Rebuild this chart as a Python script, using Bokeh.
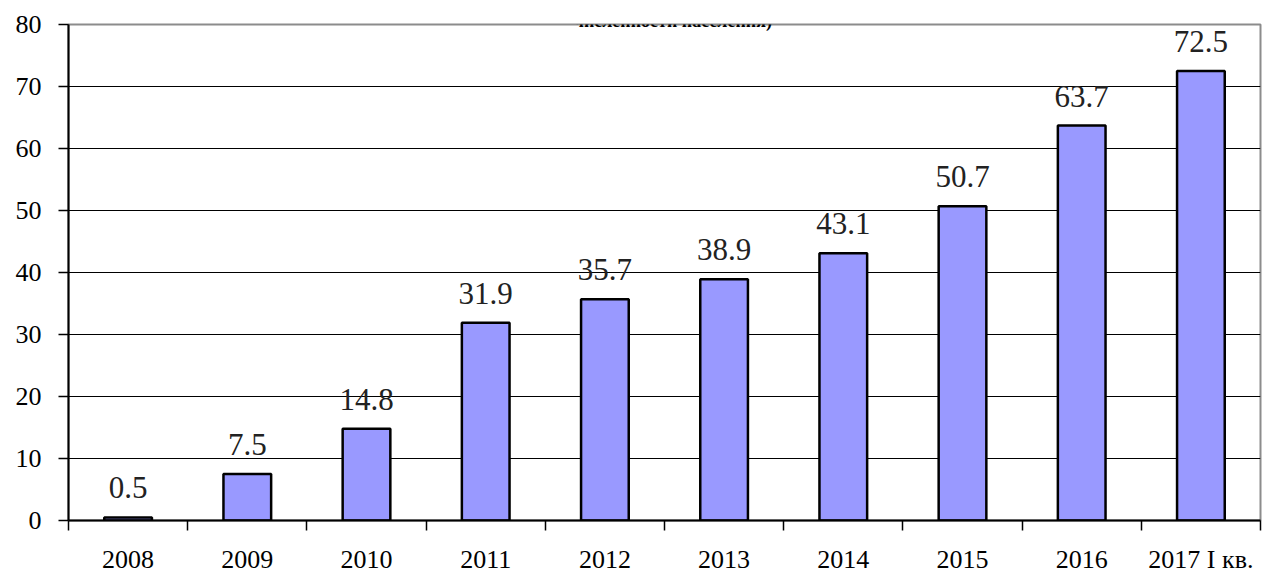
from bokeh.plotting import figure
from bokeh.models import Range1d, FixedTicker, ColumnDataSource, LabelSet, Label
from bokeh.embed import file_html
from bokeh.resources import INLINE

years = ["2008", "2009", "2010", "2011", "2012", "2013", "2014", "2015", "2016", "2017 I кв."]
values = [0.5, 7.5, 14.8, 31.9, 35.7, 38.9, 43.1, 50.7, 63.7, 72.5]
y_ticks = [0, 10, 20, 30, 40, 50, 60, 70, 80]
title_text = "численности населения)"

n = len(years)
centers = [i + 0.5 for i in range(n)]
bounds = [float(i) for i in range(n + 1)]

src = ColumnDataSource(dict(x=centers, top=values, lab=[f"{v:.1f}" for v in values]))

p = figure(width=1262, height=576, output_backend="svg", toolbar_location=None,
           x_range=Range1d(0, n), y_range=Range1d(0, 80),
           min_border_left=68, min_border_right=2, min_border_top=24, min_border_bottom=56)
p.background_fill_color = "white"
p.border_fill_color = "white"
p.outline_line_color = "#8c8c8c"
p.outline_line_width = 2

p.vbar(x="x", top="top", bottom=0, width=0.4, source=src,
       fill_color="#9999FF", line_color="black", line_width=2.5)

FONT = "'Liberation Serif', serif"

# y axis
p.yaxis.ticker = FixedTicker(ticks=y_ticks)
p.yaxis.axis_line_color = "black"
p.yaxis.axis_line_width = 2
p.yaxis.major_tick_out = 10
p.yaxis.major_tick_in = 0
p.yaxis.major_tick_line_color = "black"
p.yaxis.major_tick_line_width = 1.5
p.yaxis.minor_tick_line_color = None
p.yaxis.major_label_text_font = FONT
p.yaxis.major_label_text_font_size = "26px"
p.yaxis.major_label_text_color = "black"
p.yaxis.major_label_standoff = 17

# x axis
p.xaxis.ticker = FixedTicker(ticks=centers, minor_ticks=bounds)
p.xaxis.major_label_overrides = {c: y for c, y in zip(centers, years)}
p.xaxis.axis_line_color = "black"
p.xaxis.axis_line_width = 2
p.xaxis.major_tick_line_color = None
p.xaxis.major_tick_out = 0
p.xaxis.major_tick_in = 0
p.xaxis.minor_tick_line_color = "black"
p.xaxis.minor_tick_line_width = 1.5
p.xaxis.minor_tick_out = 10
p.xaxis.minor_tick_in = 0
p.xaxis.major_label_text_font = FONT
p.xaxis.major_label_text_font_size = "26px"
p.xaxis.major_label_text_color = "black"
p.xaxis.major_label_standoff = 14

p.xgrid.grid_line_color = None
p.ygrid.ticker = FixedTicker(ticks=y_ticks[1:-1])
p.ygrid.grid_line_color = "black"
p.ygrid.grid_line_width = 1.2

labels = LabelSet(x="x", y="top", text="lab", source=src, y_offset=19,
                  text_align="center", text_baseline="alphabetic",
                  text_font=FONT, text_font_size="31px", text_color="#222222")
p.add_layout(labels)

title = Label(x=5.07, y=80.6, text=title_text, text_align="center", text_baseline="alphabetic",
              text_font=FONT, text_font_size="18px", text_font_style="bold", text_color="black")
p.add_layout(title)

open("out.html", "w").write(file_html(p, INLINE))
